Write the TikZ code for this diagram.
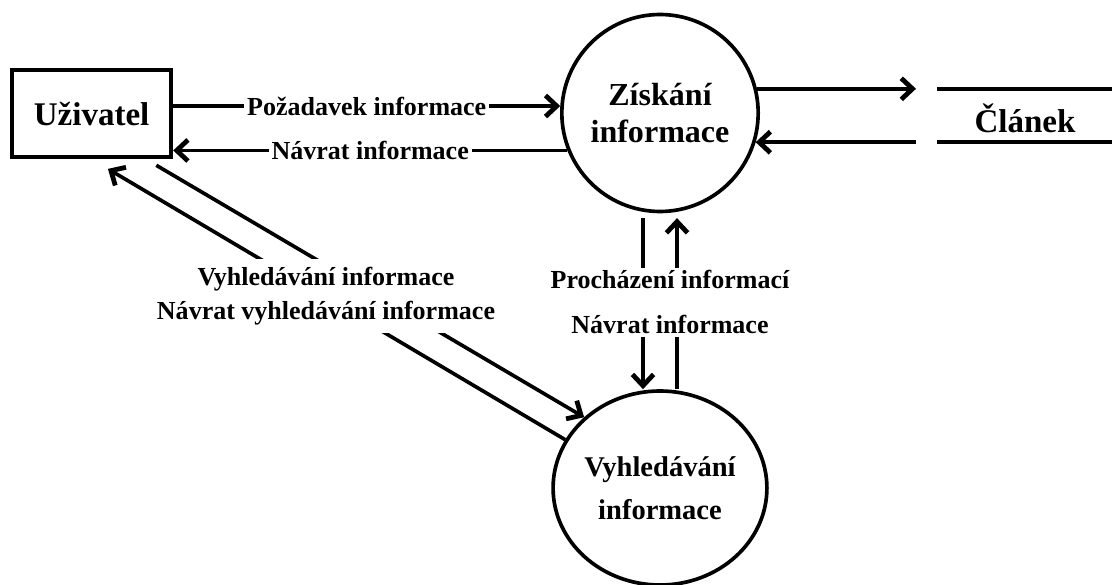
\documentclass[tikz,border=0pt]{standalone}
\usepackage{fontspec}
\setmainfont{Liberation Serif}
\usepackage{tikz}
\usetikzlibrary{positioning,arrows.meta,calc,shapes.geometric}

\begin{document}
\begin{tikzpicture}[
    flow/.style={line width=2.6pt,
      -{Straight Barb[length=8pt,width=15pt,line width=3.4pt]}},
    lbl/.style={fill=white, inner sep=2pt, align=center,
      font=\fontsize{18.5}{24}\selectfont\bfseries},
    proc/.style={ellipse, draw, line width=2.6pt, inner sep=0pt, align=center}
  ]
      \useasboundingbox (0,0) rectangle (27.8,14.6);

      % Entity and processes
      \node[draw, line width=3pt, minimum width=3.975cm, minimum height=2.175cm,
        font=\fontsize{23.5}{28}\selectfont\bfseries] (uziv) at (2.29,11.76) {Uživatel};
      \node[proc, minimum width=4.7cm, minimum height=4.925cm,
        font=\fontsize{22.8}{26.3}\selectfont\bfseries] (zisk) at (16.5,11.775)
        {Získání\\informace};
      \node[proc, minimum width=4.725cm, minimum height=4.85cm,
        font=\fontsize{20.3}{30.6}\selectfont\bfseries] (vyhl) at (16.5,2.4)
        {Vyhledávání\\informace};

      % Data store
      \node[font=\fontsize{23.5}{28}\selectfont\bfseries] (clanek) at (25.625,11.65) {Článek};
      \coordinate (stin) at (22.9,11.65);
      \draw[line width=2.8pt] (23.425,12.375) -- (27.8,12.375);
      \draw[line width=2.8pt] (23.425,11.05) -- (27.8,11.05);

      % Flows between user and process
      \draw[flow] (uziv.east |- zisk.176) -- node[lbl] {Požadavek informace} (zisk.176);
      \draw[flow] (zisk.202) -- node[lbl] {Návrat informace} (uziv.east |- zisk.202);

      % Flows to the store
      \draw[flow] (zisk.14) -- (zisk.14 -| stin);
      \draw[flow] (zisk.-17 -| stin) -- (zisk.-17);

      % Flows between the processes
      \draw[flow, shorten <=0.12cm] ([xshift=-0.425cm]zisk.south) -- ([xshift=-0.425cm]vyhl.north);
      \draw[flow, shorten >=0.12cm] ([xshift=0.425cm]vyhl.north) -- ([xshift=0.425cm]zisk.south);
      \node[lbl, font=\fontsize{18.5}{32}\selectfont\bfseries] (lblpi) at (16.75,7.04)
        {Procházení informací\\Návrat informace};

      % Search flows
      \draw[flow, shorten <=0.3cm] (uziv.-40) -- (vyhl.137);
      \draw[flow, shorten >=0.475cm] (vyhl.153) -- (uziv.south);
      \node[lbl, inner ysep=6pt] (lblvi) at (8.15,7.2)
        {Vyhledávání informace\\Návrat vyhledávání informace};
\end{tikzpicture}
\end{document}
